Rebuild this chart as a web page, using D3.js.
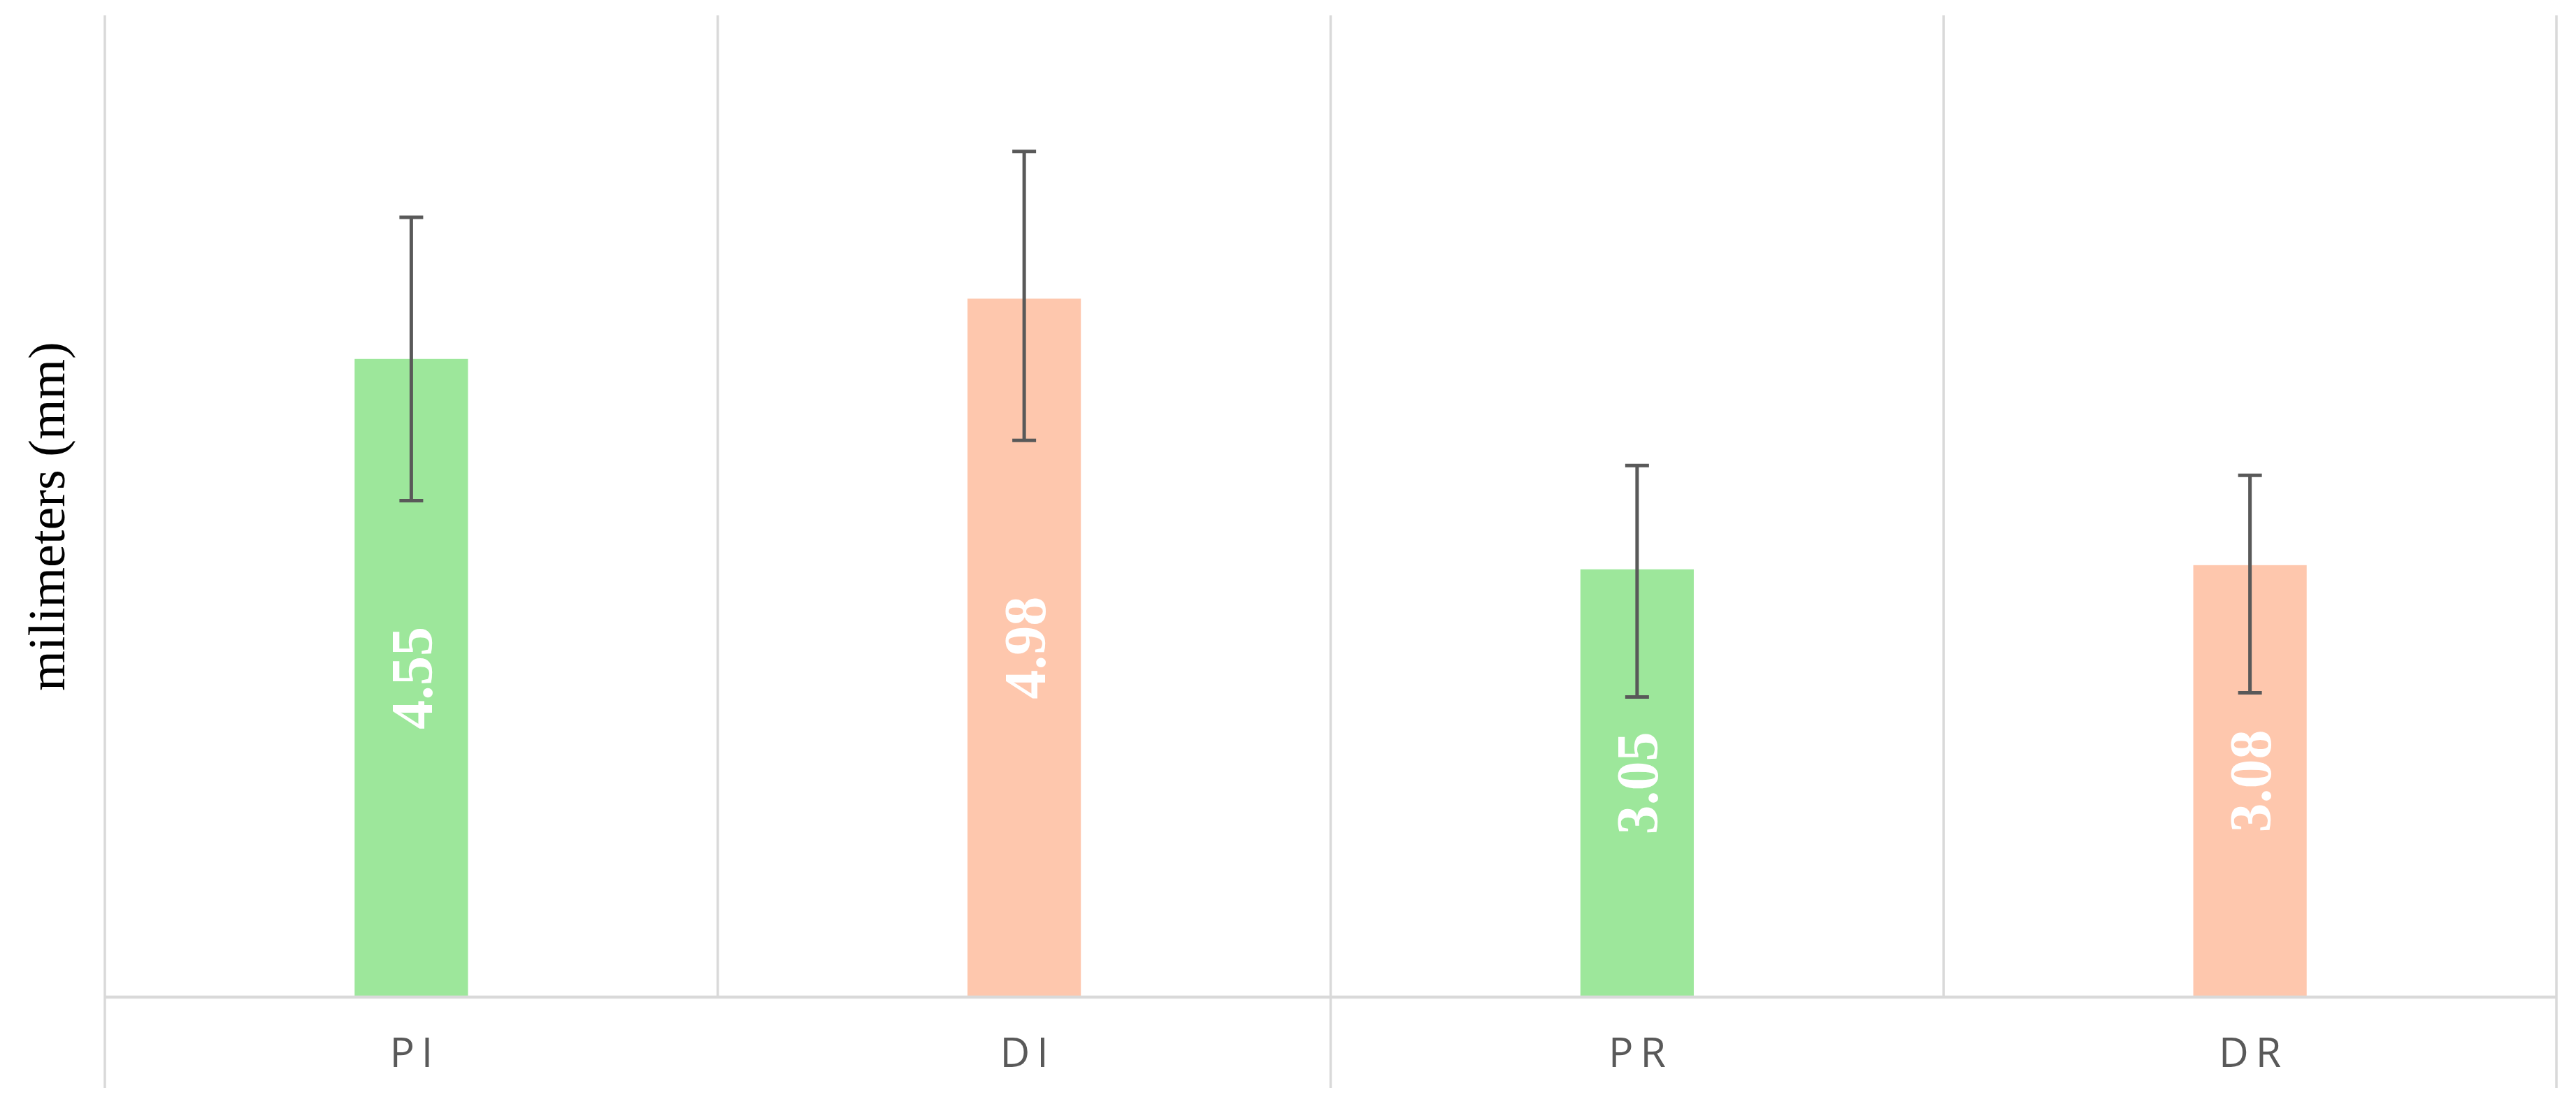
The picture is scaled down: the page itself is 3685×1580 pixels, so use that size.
<!DOCTYPE html>
<html>
<head>
<meta charset="utf-8">
<script src="https://cdn.jsdelivr.net/npm/d3@7"></script>
<style>
    html, body { margin: 0; padding: 0; background: #fff; }
    svg { display: block; }
</style>
</head>
<body>
<div id="chart"></div>
<script>
// values
var categories = ["PI", "DI", "PR", "DR"],
    means = [4.55, 4.98, 3.05, 3.08],
    err_high = [5.56, 6.03, 3.79, 3.72],
    err_low = [3.54, 3.97, 2.14, 2.17],
    bar_colors = ["#9de79b", "#fec7ad", "#9de79b", "#fec7ad"],
    y_label = "milimeters (mm)";

var W = 3685, H = 1580;

var left = 150, right = 3657,
    top_y = 22, base_y = 1427, axis_bottom = 1557;

var svg = d3.select("#chart").append("svg")
    .attr("width", W)
    .attr("height", H);

var x = d3.scaleBand()
    .domain(categories)
    .range([left, right])
    .paddingInner(0)
    .paddingOuter(0);

var y = d3.scaleLinear()
    .domain([0, 7])
    .range([base_y, top_y]);

var bar_w = x.bandwidth() * 0.185;

// vertical grid lines at category borders
var borders = d3.range(categories.length + 1).map(function(i) {
    return left + i * x.bandwidth();
});

svg.append("g").selectAll("line")
    .data(borders)
    .enter().append("line")
        .attr("x1", function(d) { return d; })
        .attr("x2", function(d) { return d; })
        .attr("y1", y(7))
        .attr("y2", function(d, i) { return i % 2 === 0 ? axis_bottom : base_y; })
        .attr("stroke", "#d9d9d9")
        .attr("stroke-width", 3.5);

// bars
svg.append("g").selectAll("rect")
    .data(categories)
    .enter().append("rect")
        .attr("x", function(d) { return x(d) + x.bandwidth() / 2 - bar_w / 2; })
        .attr("y", function(d, i) { return y(means[i]); })
        .attr("width", bar_w)
        .attr("height", function(d, i) { return y(0) - y(means[i]); })
        .attr("fill", function(d, i) { return bar_colors[i]; });

// baseline
svg.append("line")
    .attr("x1", left)
    .attr("x2", right)
    .attr("y1", y(0))
    .attr("y2", y(0))
    .attr("stroke", "#d9d9d9")
    .attr("stroke-width", 4.5);

// value labels inside bars
svg.append("g").selectAll("text")
    .data(categories)
    .enter().append("text")
        .attr("transform", function(d, i) {
            var cx = x(d) + x.bandwidth() / 2,
                cy = (y(means[i]) + y(0)) / 2;
            return "translate(" + cx + "," + cy + ") rotate(-90)";
        })
        .attr("text-anchor", "middle")
        .attr("dy", "0.35em")
        .style("font-family", "'Liberation Serif', 'Times New Roman', serif")
        .style("font-weight", "bold")
        .style("font-size", "84px")
        .attr("fill", "#ffffff")
        .text(function(d, i) { return means[i].toFixed(2); });

// error bars
var err = svg.append("g")
    .attr("stroke", "#595959")
    .attr("stroke-width", 5);

categories.forEach(function(c, i) {
    var cx = x(c) + x.bandwidth() / 2;
    err.append("line")
        .attr("x1", cx).attr("x2", cx)
        .attr("y1", y(err_high[i])).attr("y2", y(err_low[i]));
    [err_high[i], err_low[i]].forEach(function(v) {
        err.append("line")
            .attr("x1", cx - 17).attr("x2", cx + 17)
            .attr("y1", y(v)).attr("y2", y(v));
    });
});

// category labels
svg.append("g").selectAll("text")
    .data(categories)
    .enter().append("text")
        .attr("x", function(d) { return x(d) + x.bandwidth() / 2 + 5; })
        .attr("y", 1527)
        .attr("text-anchor", "middle")
        .style("font-family", "'Open Sans', 'Noto Sans', sans-serif")
        .style("font-size", "59px")
        .style("letter-spacing", "10px")
        .attr("fill", "#595959")
        .text(function(d) { return d; });

// y axis title
svg.append("text")
    .attr("transform", "translate(66," + 739 + ") rotate(-90)")
    .attr("text-anchor", "middle")
    .attr("dy", "0.35em")
    .style("font-family", "'Liberation Serif', 'Times New Roman', serif")
    .style("font-size", "74px")
    .attr("fill", "#000000")
    .text(y_label);
</script>
</body>
</html>
